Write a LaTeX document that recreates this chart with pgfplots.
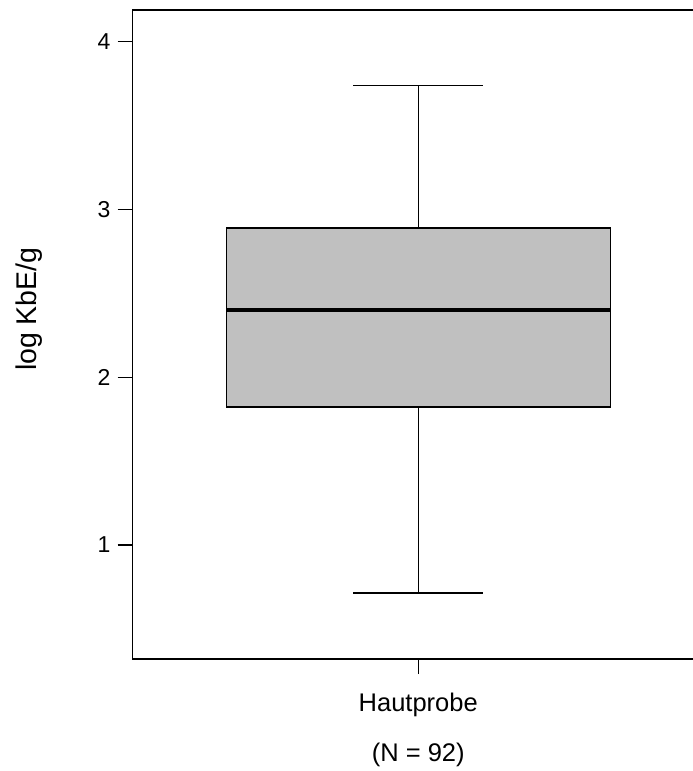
\documentclass[border=0pt]{standalone}
\usepackage{pgfplots}
\pgfplotsset{compat=1.18}
\usepgfplotslibrary{statistics}
\usepackage{fontspec}
\setmainfont{Liberation Sans}
\definecolor{boxgray}{RGB}{192,192,192}
\begin{document}
\begin{tikzpicture}[x=1pt,y=1pt]
\begin{axis}[
  at={(132.5pt,112pt)}, anchor=south west,
  scale only axis, width=571.5pt, height=649pt,
  xmin=0.5, xmax=1.5, ymin=0.32, ymax=4.19,
  xtick={1}, xticklabels={{Hautprobe\\(N = 92)}},
  ytick={1,2,3,4},
  tick align=outside, major tick length=15pt,
  tick pos=left,
  axis line style={line width=1.3pt, black},
  tick style={line width=1.1pt, black},
  /pgf/number format/assume math mode=true,
  yticklabel style={font=\fontsize{23pt}{27pt}\selectfont, inner sep=0pt, xshift=-7pt},
  xticklabel style={align=center, font=\fontsize{25.5pt}{50pt}\selectfont, inner sep=0pt, yshift=-19pt},
  ylabel={log KbE/g},
  ylabel style={font=\fontsize{28.5pt}{32pt}\selectfont, at={(axis description cs:-0.181,0.539)}, anchor=center},
  boxplot/draw direction=y,
  boxplot/every median/.style={line width=3.5pt, black},
]
\addplot[boxplot prepared={median=2.40, upper quartile=2.89, lower quartile=1.823,
  upper whisker=3.742, lower whisker=0.714, draw position=1,
  box extend=0.672, whisker extend=0.227},
  draw=black, fill=boxgray, line width=1.2pt, solid] coordinates {};
\end{axis}
\pgfresetboundingbox
\path[use as bounding box] (0,0) rectangle (693,771);
\end{tikzpicture}
\end{document}
